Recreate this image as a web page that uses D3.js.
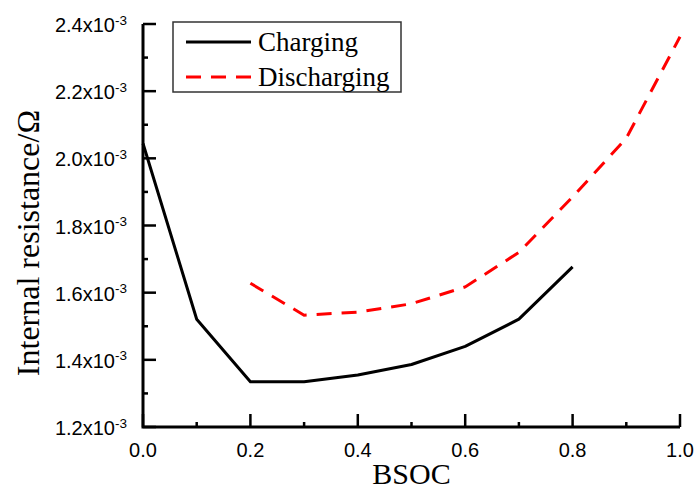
<!DOCTYPE html>
<html>
<head>
<meta charset="utf-8">
<script src="https://cdn.jsdelivr.net/npm/d3@7"></script>
<style>
body{margin:0;background:#fff;}
</style>
</head>
<body>
<div class="line-chart"></div>
<script>
// values in units of 10^-3 ohm
const chargeSoc = [0.0, 0.1, 0.2, 0.3, 0.4, 0.5, 0.6, 0.7, 0.8];
const chargeRes = [2.044, 1.521, 1.335, 1.335, 1.355, 1.386, 1.440, 1.521, 1.677];
const dischargeSoc = [0.2, 0.3, 0.4, 0.5, 0.6, 0.7, 0.8, 0.9, 1.0];
const dischargeRes = [1.628, 1.533, 1.542, 1.567, 1.617, 1.720, 1.885, 2.060, 2.362];
const xTicks = [0.0, 0.2, 0.4, 0.6, 0.8, 1.0];
const xMinorTicks = [0.1, 0.3, 0.5, 0.7, 0.9];
const yTicks = [1.2, 1.4, 1.6, 1.8, 2.0, 2.2, 2.4];
const yMinorTicks = [1.3, 1.5, 1.7, 1.9, 2.1, 2.3];

function main(){
    var margin = {top: 24, right: 15, bottom: 64, left: 143};
    const width = 695 - margin.left - margin.right;
    const height = 491 - margin.top - margin.bottom;

    const root = d3.select(".line-chart")
                    .append("svg")
                    .attr("width", 695)
                    .attr("height", 491);
    const svg = root.append("g")
                    .attr("transform", "translate(" + margin.left + "," + margin.top + ")");

    let xScale = d3.scaleLinear().domain([0, 1]).range([0, width]);
    let yScale = d3.scaleLinear().domain([1.2, 2.4]).range([height, 0]);

    //TICK LABELS
    svg.selectAll(".xlabel")
        .data(xTicks)
        .enter().append("text")
        .attr("class", "xlabel")
        .attr("x", d => xScale(d))
        .attr("y", height + 30)
        .attr("text-anchor", "middle")
        .attr("font-family", "Liberation Sans, Arial, sans-serif")
        .attr("font-size", 20)
        .text(d => d3.format(".1f")(d));

    let yl = svg.selectAll(".ylabel")
        .data(yTicks)
        .enter().append("text")
        .attr("class", "ylabel")
        .attr("x", -16)
        .attr("y", d => yScale(d) + 8)
        .attr("text-anchor", "end")
        .attr("font-family", "Liberation Sans, Arial, sans-serif")
        .attr("font-size", 20);
    yl.append("tspan").text(d => d3.format(".1f")(d) + "x10");
    yl.append("tspan").attr("font-size", 13.5).attr("dy", "-0.55em").text("-3");

    // lines
    let chargeData = chargeSoc.map((s, i) => ({x: s, y: chargeRes[i]}));
    let dischargeData = dischargeSoc.map((s, i) => ({x: s, y: dischargeRes[i]}));
    let line = d3.line().x(d => xScale(d.x)).y(d => yScale(d.y));

    svg.append("path")
        .datum(chargeData)
        .attr("d", line)
        .attr("fill", "none")
        .attr("stroke", "#000")
        .attr("stroke-width", 3)
        .attr("stroke-linejoin", "round");

    svg.append("path")
        .datum(dischargeData)
        .attr("d", line)
        .attr("fill", "none")
        .attr("stroke", "#ff0000")
        .attr("stroke-width", 3)
        .attr("stroke-dasharray", "15,10");

    // axis titles
    root.append("text")
        .attr("x", margin.left + width / 2)
        .attr("y", 484)
        .attr("text-anchor", "middle")
        .attr("font-family", "Liberation Serif, Times New Roman, serif")
        .attr("font-size", 30)
        .text("BSOC");

    root.append("text")
        .attr("transform", "translate(39, 243) rotate(-90)")
        .attr("text-anchor", "middle")
        .attr("font-family", "Liberation Serif, Times New Roman, serif")
        .attr("font-size", 32)
        .text("Internal resistance/Ω");

    // legend
    let legend = root.append("g").attr("transform", "translate(173, 22)");
    legend.append("rect")
        .attr("width", 228).attr("height", 70)
        .attr("fill", "#fff").attr("stroke", "#333").attr("stroke-width", 1.5);
    let items = [
        {name: "Charging", color: "#000", dash: null, y: 20},
        {name: "Discharging", color: "#ff0000", dash: "15,10", y: 55}
    ];
    items.forEach(it => {
        legend.append("line")
            .attr("x1", 13).attr("x2", 78)
            .attr("y1", it.y).attr("y2", it.y)
            .attr("stroke", it.color).attr("stroke-width", 3)
            .attr("stroke-dasharray", it.dash);
        legend.append("text")
            .attr("x", 85).attr("y", it.y + 9)
            .attr("font-family", "Liberation Serif, Times New Roman, serif")
            .attr("font-size", 27)
            .text(it.name);
    });

    //AXES drawn last so nothing sits over them
    let axes = root.append("g")
        .attr("transform", "translate(" + margin.left + "," + margin.top + ")");

    axes.append("path")
        .attr("d", "M0,0V" + height + "H" + width)
        .attr("fill", "none")
        .attr("stroke", "#000")
        .attr("stroke-width", 3);

    axes.selectAll(".xtick")
        .data(xTicks.map(v => ({v: v, len: 13})).concat(xMinorTicks.map(v => ({v: v, len: 5}))))
        .enter().append("line")
        .attr("class", "xtick")
        .attr("x1", d => xScale(d.v)).attr("x2", d => xScale(d.v))
        .attr("y1", height).attr("y2", d => height - d.len)
        .attr("stroke", "#000").attr("stroke-width", 2.5);

    axes.selectAll(".ytick")
        .data(yTicks.map(v => ({v: v, len: 13})).concat(yMinorTicks.map(v => ({v: v, len: 5}))))
        .enter().append("line")
        .attr("class", "ytick")
        .attr("y1", d => yScale(d.v)).attr("y2", d => yScale(d.v))
        .attr("x1", 0).attr("x2", d => d.len)
        .attr("stroke", "#000").attr("stroke-width", 2.5);
}

main();
</script>
</body>
</html>
